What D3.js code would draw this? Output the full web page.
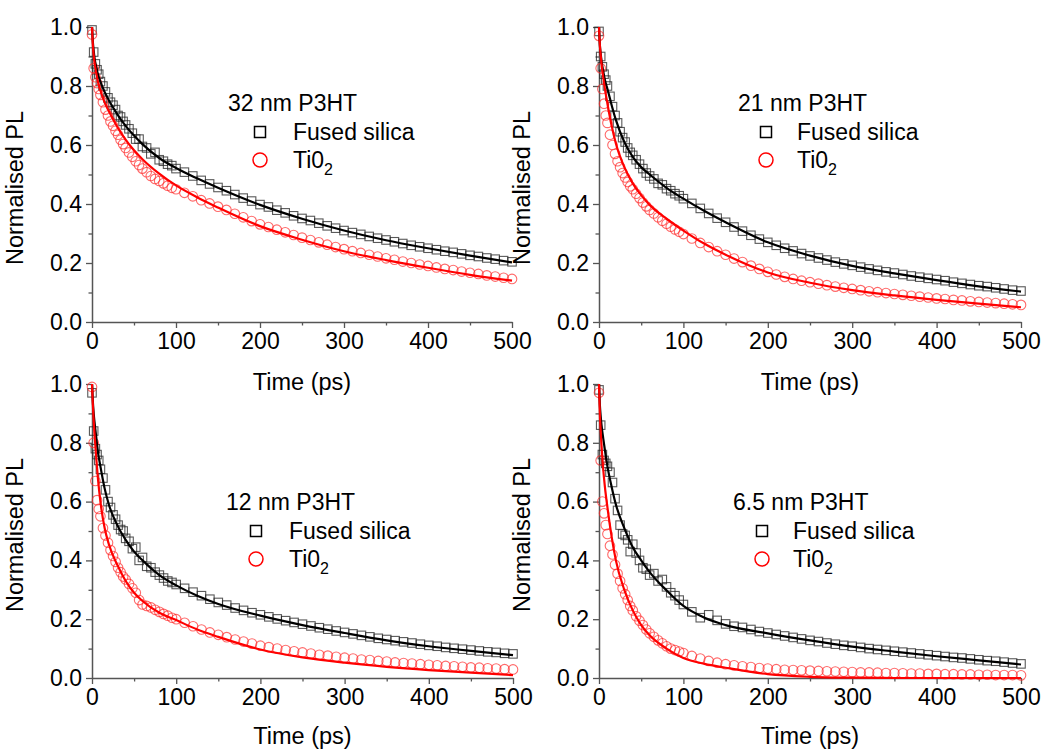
<!DOCTYPE html>
<html><head><meta charset="utf-8">
<script src="https://cdn.jsdelivr.net/npm/d3@7"></script>
<style>
body{margin:0;background:#fff}
svg{display:block}
text{font-family:Arial,"Liberation Sans",Helvetica,sans-serif}
</style>
</head><body>
<svg id="chart" width="1043" height="751"></svg>
<script>
// ---------- data ----------
const times = [0,2,4,6,8,10,13,16,19,22,25,28,31,34,37,40,44,48,52,56,60,65,70,75,80,85,90,95,100,
  110,120,130,140,150,160,170,180,190,200,210,220,230,240,250,260,270,280,290,300,310,320,330,340,350,
  360,370,380,390,400,410,420,430,440,450,460,470,480,490,500];
const fitTimes = [0,1,2,3,5,7,10,15,20,30,40,50,60,80,100,125,150,200,250,300,350,400,450,500];
const xTicks = [0,100,200,300,400,500];
const xMinor = [50,150,250,350,450];
const yTicks = [0,0.2,0.4,0.6,0.8,1.0];
const yMinor = [0.1,0.3,0.5,0.7,0.9];
const panelLabels = ["32 nm P3HT","21 nm P3HT","12 nm P3HT","6.5 nm P3HT"];
const seriesNames = ["Fused silica","Ti0"];
const xTitle = "Time (ps)";
const yTitle = "Normalised PL";

// 32 nm
const fs32 = [.99,.915,.875,.855,.84,.815,.80,.78,.76,.745,.735,.72,.70,.695,.68,.668,.655,.64,.62,.62,.595,.59,.57,.575,.55,.545,.535,.53,.52,
  .508,.495,.48,.468,.456,.445,.432,.42,.41,.398,.39,.379,.37,.36,.351,.344,.335,.326,.318,.31,.303,.297,.29,.284,.278,
  .272,.266,.26,.255,.25,.245,.24,.236,.231,.226,.222,.217,.213,.208,.204];
const ti32 = [.975,.86,.83,.81,.79,.77,.745,.72,.70,.68,.665,.648,.635,.618,.603,.59,.575,.56,.545,.532,.52,.508,.495,.485,.478,.47,.462,.455,.45,
  .438,.426,.413,.402,.391,.38,.367,.355,.342,.331,.322,.313,.304,.295,.286,.278,.27,.262,.254,.247,.24,.234,.228,.222,.216,
  .211,.205,.20,.195,.19,.185,.18,.176,.171,.167,.163,.158,.154,.15,.146];
const fs32Fit = [1.0,.95,.92,.895,.865,.84,.815,.78,.752,.705,.665,.632,.603,.556,.522,.487,.455,.397,.35,.31,.277,.25,.225,.202];
const ti32Fit = [1.0,.94,.905,.88,.845,.815,.785,.745,.715,.662,.618,.582,.552,.503,.463,.423,.388,.325,.279,.24,.21,.184,.16,.14];

// 21 nm
const fs21 = [.985,.90,.865,.84,.82,.80,.765,.73,.70,.675,.645,.625,.61,.59,.575,.565,.55,.535,.52,.505,.495,.485,.47,.465,.452,.445,.435,.428,.418,
  .402,.385,.368,.352,.338,.322,.308,.294,.281,.27,.26,.25,.241,.232,.224,.217,.21,.203,.197,.192,.186,.18,.175,.17,.166,
  .161,.156,.152,.148,.144,.14,.135,.131,.127,.123,.12,.116,.112,.108,.105];
const ti21 = [.97,.86,.79,.74,.70,.675,.635,.60,.57,.545,.525,.505,.49,.475,.46,.45,.435,.42,.405,.392,.38,.368,.355,.343,.333,.323,.314,.306,.298,
  .283,.268,.254,.24,.228,.215,.203,.191,.18,.17,.161,.153,.146,.14,.135,.13,.125,.12,.116,.112,.108,.104,.101,.098,.095,
  .092,.089,.086,.083,.08,.078,.075,.073,.07,.068,.066,.064,.062,.06,.058];
const fs21Fit = [1.0,.94,.91,.885,.85,.82,.79,.735,.685,.61,.56,.525,.50,.455,.418,.376,.338,.27,.225,.19,.165,.142,.121,.103];
const ti21Fit = [1.0,.94,.905,.875,.83,.79,.74,.665,.605,.525,.47,.43,.397,.35,.31,.265,.228,.168,.133,.108,.09,.075,.062,.05];

// 12 nm
const fs12 = [.97,.84,.78,.76,.74,.71,.68,.64,.60,.58,.555,.54,.52,.505,.50,.475,.465,.44,.445,.40,.41,.38,.375,.36,.35,.34,.33,.325,.318,
  .305,.292,.28,.268,.257,.248,.238,.23,.222,.215,.208,.201,.195,.189,.183,.177,.171,.166,.16,.155,.15,.145,.14,.135,.131,
  .127,.123,.119,.115,.111,.108,.104,.101,.098,.095,.092,.089,.087,.084,.082];
const ti12 = [.99,.80,.67,.605,.575,.55,.51,.485,.46,.435,.415,.395,.375,.36,.345,.335,.32,.305,.29,.265,.25,.245,.24,.232,.225,.218,.212,.205,.20,
  .188,.176,.165,.155,.147,.139,.131,.124,.117,.11,.105,.10,.095,.091,.087,.083,.079,.076,.072,.069,.066,.063,.061,.058,.056,
  .053,.051,.049,.047,.045,.043,.041,.04,.038,.036,.035,.033,.032,.03,.029];
const fs12Fit = [1.0,.94,.90,.87,.82,.77,.72,.645,.59,.52,.47,.43,.40,.35,.315,.28,.252,.212,.18,.153,.128,.108,.092,.078];
const ti12Fit = [1.0,.93,.875,.83,.75,.68,.60,.51,.455,.385,.33,.29,.262,.222,.197,.165,.14,.097,.07,.052,.038,.027,.018,.01];

// 6.5 nm
const fs65 = [.98,.86,.76,.74,.73,.72,.70,.665,.61,.57,.52,.49,.485,.47,.43,.455,.425,.40,.375,.37,.35,.355,.33,.335,.31,.29,.28,.265,.25,
  .225,.205,.215,.196,.184,.176,.172,.165,.158,.153,.148,.143,.138,.133,.128,.124,.119,.115,.111,.108,.104,.10,.097,.094,.091,
  .088,.085,.082,.079,.076,.073,.07,.068,.065,.062,.059,.057,.054,.051,.048];
const ti65 = [.97,.74,.60,.56,.52,.49,.45,.42,.385,.355,.33,.305,.285,.265,.245,.23,.21,.195,.18,.165,.152,.14,.128,.118,.108,.10,.095,.09,.085,
  .075,.066,.058,.052,.047,.043,.04,.037,.034,.032,.03,.028,.027,.026,.025,.024,.023,.022,.021,.02,.019,.019,.018,.017,.017,
  .016,.015,.015,.014,.014,.013,.013,.012,.012,.011,.011,.01,.01,.01,.009];
const fs65Fit = [1.0,.93,.89,.86,.815,.775,.72,.65,.59,.51,.445,.40,.36,.298,.245,.205,.18,.152,.128,.107,.09,.074,.06,.046];
const ti65Fit = [1.0,.90,.84,.79,.71,.65,.58,.48,.40,.30,.23,.18,.145,.10,.068,.048,.035,.013,.004,.001,0,0,0,0];

// ---------- layout ----------
const panels = [
  {label:panelLabels[0], fs:fs32, ti:ti32, fsFit:fs32Fit, tiFit:ti32Fit,
   box:{l:92,r:512,t:27,b:322}, leg:{tx:228,sx:260,lx:293,y0:103}, yTitleY:188, xTitleY:390},
  {label:panelLabels[1], fs:fs21, ti:ti21, fsFit:fs21Fit, tiFit:ti21Fit,
   box:{l:599,r:1021,t:27,b:322}, leg:{tx:738,sx:766,lx:797,y0:103}, yTitleY:188, xTitleY:390},
  {label:panelLabels[2], fs:fs12, ti:ti12, fsFit:fs12Fit, tiFit:ti12Fit,
   box:{l:92,r:513,t:384,b:678}, leg:{tx:226,sx:256,lx:289,y0:502}, yTitleY:535, xTitleY:744},
  {label:panelLabels[3], fs:fs65, ti:ti65, fsFit:fs65Fit, tiFit:ti65Fit,
   box:{l:599,r:1021,t:384,b:678}, leg:{tx:733,sx:762,lx:793,y0:502}, yTitleY:535, xTitleY:744}
];

const svg = d3.select("#chart");
const axisColor = "#555";
const black = "#000", red = "#ff0000";

panels.forEach(p => {
  const x = d3.scaleLinear().domain([0,500]).range([p.box.l,p.box.r]);
  const y = d3.scaleLinear().domain([0,1]).range([p.box.b,p.box.t]);
  const g = svg.append("g");

  // axes
  const xa = g.append("g").attr("transform",`translate(0,${p.box.b})`)
    .call(d3.axisBottom(x).tickValues(xTicks).tickSize(6).tickSizeOuter(0).tickPadding(5).tickFormat(d3.format("d")));
  const xm = g.append("g").attr("transform",`translate(0,${p.box.b})`)
    .call(d3.axisBottom(x).tickValues(xMinor).tickSize(3.5).tickSizeOuter(0).tickFormat(""));
  xm.select(".domain").remove();
  const ya = g.append("g").attr("transform",`translate(${p.box.l},0)`)
    .call(d3.axisLeft(y).tickValues(yTicks).tickSize(6).tickSizeOuter(0).tickPadding(4).tickFormat(d3.format(".1f")));
  const ym = g.append("g").attr("transform",`translate(${p.box.l},0)`)
    .call(d3.axisLeft(y).tickValues(yMinor).tickSize(3.5).tickSizeOuter(0).tickFormat(""));
  ym.select(".domain").remove();
  [xa,xm,ya,ym].forEach(a => {
    a.selectAll(".domain").attr("stroke",axisColor).attr("stroke-width",1.5);
    a.selectAll(".tick line").attr("stroke",axisColor).attr("stroke-width",1.3);
    a.selectAll("text").attr("fill","#000").style("font-size","23px")
      .style("font-family","Arial, 'Liberation Sans', sans-serif");
  });

  // titles
  g.append("text").attr("x",(p.box.l+p.box.r)/2).attr("y",p.xTitleY)
    .attr("text-anchor","middle").style("font-size","23.5px").text(xTitle);
  g.append("text").attr("transform",`translate(${p.box.l-69},${p.yTitleY}) rotate(-90)`)
    .attr("text-anchor","middle").style("font-size","23.5px").text(yTitle);

  // markers
  const fsData = times.map((t,i)=>({t, v:p.fs[i]}));
  const tiData = times.map((t,i)=>({t, v:p.ti[i]}));
  const sq = 8.5;
  g.append("g").selectAll("rect").data(fsData).join("rect")
    .attr("x",d=>x(d.t)-sq/2).attr("y",d=>y(d.v)-sq/2).attr("width",sq).attr("height",sq)
    .attr("fill","none").attr("stroke","#222").attr("stroke-width",1.1).attr("stroke-opacity",0.75);
  g.append("g").selectAll("circle").data(tiData).join("circle")
    .attr("cx",d=>x(d.t)).attr("cy",d=>y(d.v)).attr("r",4.8)
    .attr("fill","none").attr("stroke","#ff2a2a").attr("stroke-width",1.1).attr("stroke-opacity",0.7);

  // fits
  const line = d3.line().x(d=>x(d.t)).y(d=>y(d.v)).curve(d3.curveMonotoneX);
  g.append("path").datum(fitTimes.map((t,i)=>({t,v:p.fsFit[i]})))
    .attr("d",line).attr("fill","none").attr("stroke",black).attr("stroke-width",2.2);
  g.append("path").datum(fitTimes.map((t,i)=>({t,v:p.tiFit[i]})))
    .attr("d",line).attr("fill","none").attr("stroke",red).attr("stroke-width",2.2);

  // legend
  const L = p.leg;
  g.append("text").attr("x",L.tx).attr("y",L.y0+8).style("font-size","23px").text(p.label);
  g.append("rect").attr("x",L.sx-5.5).attr("y",L.y0+29-5.5).attr("width",11).attr("height",11)
    .attr("fill","none").attr("stroke","#000").attr("stroke-width",1.5);
  g.append("text").attr("x",L.lx).attr("y",L.y0+29+8).style("font-size","23px").text(seriesNames[0]);
  g.append("circle").attr("cx",L.sx).attr("cy",L.y0+57).attr("r",7)
    .attr("fill","none").attr("stroke",red).attr("stroke-width",1.5);
  const tt = g.append("text").attr("x",L.lx).attr("y",L.y0+57+8).style("font-size","23px");
  tt.append("tspan").text(seriesNames[1]);
  tt.append("tspan").attr("dy",7).style("font-size","16px").text("2");
});
</script>
</body></html>
